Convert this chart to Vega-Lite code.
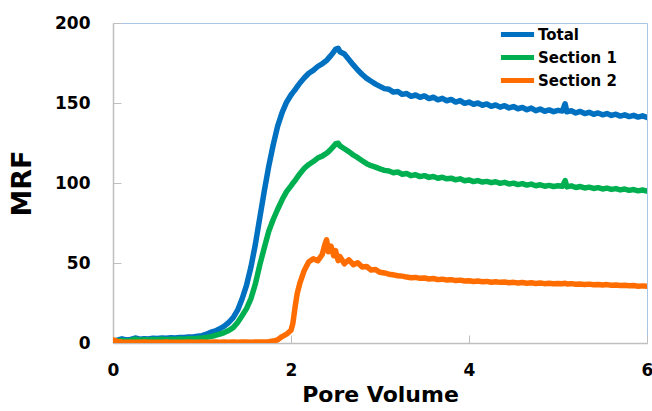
{
  "$schema": "https://vega.github.io/schema/vega-lite/v6.json",
  "width": 534,
  "height": 320,
  "padding": {"left": 113, "top": 23, "right": 5, "bottom": 68},
  "autosize": {"type": "none"},
  "background": "white",
  "config": {
    "view": {"stroke": "#A8C6E6", "strokeWidth": 1},
    "font": "DejaVu Sans"
  },
  "data": {
    "values": [
      {"pv": 0.00, "Total": 1.0, "Section 1": 1.0, "Section 2": 2.0},
      {"pv": 0.05, "Total": 1.8, "Section 1": 1.2, "Section 2": 1.0},
      {"pv": 0.10, "Total": 2.6, "Section 1": 1.5, "Section 2": 0.6},
      {"pv": 0.15, "Total": 1.9, "Section 1": 1.3, "Section 2": 0.5},
      {"pv": 0.20, "Total": 2.2, "Section 1": 1.6, "Section 2": 0.5},
      {"pv": 0.25, "Total": 3.1, "Section 1": 2.4, "Section 2": 0.4},
      {"pv": 0.30, "Total": 2.4, "Section 1": 1.8, "Section 2": 0.5},
      {"pv": 0.35, "Total": 2.7, "Section 1": 2.0, "Section 2": 0.6},
      {"pv": 0.40, "Total": 2.5, "Section 1": 1.9, "Section 2": 0.5},
      {"pv": 0.45, "Total": 3.0, "Section 1": 2.2, "Section 2": 0.4},
      {"pv": 0.50, "Total": 2.8, "Section 1": 2.0, "Section 2": 0.5},
      {"pv": 0.55, "Total": 3.2, "Section 1": 2.3, "Section 2": 0.5},
      {"pv": 0.60, "Total": 3.0, "Section 1": 2.1, "Section 2": 0.6},
      {"pv": 0.65, "Total": 3.3, "Section 1": 2.4, "Section 2": 0.5},
      {"pv": 0.70, "Total": 3.1, "Section 1": 2.2, "Section 2": 0.4},
      {"pv": 0.75, "Total": 3.5, "Section 1": 2.5, "Section 2": 0.5},
      {"pv": 0.80, "Total": 3.4, "Section 1": 2.4, "Section 2": 0.5},
      {"pv": 0.85, "Total": 3.8, "Section 1": 2.7, "Section 2": 0.6},
      {"pv": 0.90, "Total": 3.7, "Section 1": 2.6, "Section 2": 0.5},
      {"pv": 0.95, "Total": 4.2, "Section 1": 2.9, "Section 2": 0.5},
      {"pv": 1.00, "Total": 4.6, "Section 1": 3.1, "Section 2": 0.6},
      {"pv": 1.05, "Total": 5.5, "Section 1": 3.5, "Section 2": 0.5},
      {"pv": 1.10, "Total": 6.8, "Section 1": 4.0, "Section 2": 0.5},
      {"pv": 1.15, "Total": 7.5, "Section 1": 4.8, "Section 2": 0.6},
      {"pv": 1.20, "Total": 8.9, "Section 1": 5.6, "Section 2": 0.5},
      {"pv": 1.25, "Total": 10.6, "Section 1": 6.5, "Section 2": 0.6},
      {"pv": 1.30, "Total": 12.8, "Section 1": 7.8, "Section 2": 0.5},
      {"pv": 1.35, "Total": 15.9, "Section 1": 9.6, "Section 2": 0.6},
      {"pv": 1.40, "Total": 20.5, "Section 1": 12.8, "Section 2": 0.5},
      {"pv": 1.45, "Total": 27.5, "Section 1": 17.0, "Section 2": 0.6},
      {"pv": 1.50, "Total": 36.0, "Section 1": 21.5, "Section 2": 0.6},
      {"pv": 1.55, "Total": 47.5, "Section 1": 27.8, "Section 2": 0.5},
      {"pv": 1.60, "Total": 61.8, "Section 1": 37.0, "Section 2": 0.6},
      {"pv": 1.65, "Total": 78.5, "Section 1": 49.0, "Section 2": 0.6},
      {"pv": 1.70, "Total": 95.0, "Section 1": 59.5, "Section 2": 0.7},
      {"pv": 1.75, "Total": 110.5, "Section 1": 69.8, "Section 2": 0.8},
      {"pv": 1.80, "Total": 123.8, "Section 1": 77.2, "Section 2": 1.2},
      {"pv": 1.85, "Total": 135.5, "Section 1": 83.6, "Section 2": 2.0},
      {"pv": 1.90, "Total": 144.0, "Section 1": 89.5, "Section 2": 4.0},
      {"pv": 1.95, "Total": 150.5, "Section 1": 94.6, "Section 2": 5.5},
      {"pv": 2.00, "Total": 155.0, "Section 1": 98.2, "Section 2": 8.0},
      {"pv": 2.02, "Total": 156.5, "Section 1": 99.8, "Section 2": 12.0},
      {"pv": 2.05, "Total": 158.6, "Section 1": 101.9, "Section 2": 24.0},
      {"pv": 2.07, "Total": 160.2, "Section 1": 103.5, "Section 2": 31.0},
      {"pv": 2.10, "Total": 162.5, "Section 1": 105.8, "Section 2": 37.5},
      {"pv": 2.15, "Total": 165.8, "Section 1": 109.2, "Section 2": 45.5},
      {"pv": 2.20, "Total": 168.6, "Section 1": 111.6, "Section 2": 50.8},
      {"pv": 2.25, "Total": 170.4, "Section 1": 113.4, "Section 2": 52.6},
      {"pv": 2.30, "Total": 172.8, "Section 1": 115.6, "Section 2": 51.4},
      {"pv": 2.35, "Total": 174.5, "Section 1": 116.8, "Section 2": 55.2},
      {"pv": 2.38, "Total": 175.8, "Section 1": 117.9, "Section 2": 61.5},
      {"pv": 2.40, "Total": 176.6, "Section 1": 118.6, "Section 2": 64.5},
      {"pv": 2.42, "Total": 177.9, "Section 1": 119.5, "Section 2": 57.0},
      {"pv": 2.45, "Total": 179.8, "Section 1": 121.2, "Section 2": 60.5},
      {"pv": 2.48, "Total": 182.0, "Section 1": 123.0, "Section 2": 54.5},
      {"pv": 2.50, "Total": 183.5, "Section 1": 124.4, "Section 2": 57.8},
      {"pv": 2.53, "Total": 184.2, "Section 1": 124.9, "Section 2": 51.5},
      {"pv": 2.55, "Total": 182.0, "Section 1": 123.2, "Section 2": 54.0},
      {"pv": 2.60, "Total": 180.6, "Section 1": 121.4, "Section 2": 49.5},
      {"pv": 2.65, "Total": 177.2, "Section 1": 119.6, "Section 2": 52.0},
      {"pv": 2.70, "Total": 173.8, "Section 1": 117.5, "Section 2": 49.0},
      {"pv": 2.75, "Total": 170.6, "Section 1": 115.8, "Section 2": 50.2},
      {"pv": 2.80, "Total": 167.8, "Section 1": 113.9, "Section 2": 47.5},
      {"pv": 2.85, "Total": 165.4, "Section 1": 112.1, "Section 2": 47.8},
      {"pv": 2.90, "Total": 163.6, "Section 1": 110.8, "Section 2": 45.6},
      {"pv": 2.95, "Total": 161.8, "Section 1": 109.9, "Section 2": 45.9},
      {"pv": 3.00, "Total": 160.4, "Section 1": 108.8, "Section 2": 44.2},
      {"pv": 3.05, "Total": 159.0, "Section 1": 107.9, "Section 2": 43.8},
      {"pv": 3.10, "Total": 158.6, "Section 1": 107.5, "Section 2": 43.0},
      {"pv": 3.15, "Total": 156.8, "Section 1": 106.4, "Section 2": 42.6},
      {"pv": 3.20, "Total": 157.2, "Section 1": 106.9, "Section 2": 42.0},
      {"pv": 3.25, "Total": 155.4, "Section 1": 105.5, "Section 2": 41.8},
      {"pv": 3.30, "Total": 155.9, "Section 1": 105.9, "Section 2": 41.2},
      {"pv": 3.35, "Total": 154.2, "Section 1": 104.6, "Section 2": 40.8},
      {"pv": 3.40, "Total": 155.0, "Section 1": 105.2, "Section 2": 41.0},
      {"pv": 3.45, "Total": 153.6, "Section 1": 104.0, "Section 2": 40.4},
      {"pv": 3.50, "Total": 154.4, "Section 1": 104.6, "Section 2": 40.6},
      {"pv": 3.55, "Total": 152.8, "Section 1": 103.5, "Section 2": 40.0},
      {"pv": 3.60, "Total": 153.6, "Section 1": 104.1, "Section 2": 40.3},
      {"pv": 3.65, "Total": 152.0, "Section 1": 103.0, "Section 2": 39.6},
      {"pv": 3.70, "Total": 152.9, "Section 1": 103.6, "Section 2": 39.9},
      {"pv": 3.75, "Total": 151.4, "Section 1": 102.6, "Section 2": 39.4},
      {"pv": 3.80, "Total": 152.2, "Section 1": 103.0, "Section 2": 39.6},
      {"pv": 3.85, "Total": 150.6, "Section 1": 102.0, "Section 2": 39.0},
      {"pv": 3.90, "Total": 151.5, "Section 1": 102.6, "Section 2": 39.3},
      {"pv": 3.95, "Total": 149.8, "Section 1": 101.4, "Section 2": 38.8},
      {"pv": 4.00, "Total": 150.6, "Section 1": 101.9, "Section 2": 38.9},
      {"pv": 4.05, "Total": 149.2, "Section 1": 100.9, "Section 2": 38.4},
      {"pv": 4.10, "Total": 150.0, "Section 1": 101.5, "Section 2": 38.7},
      {"pv": 4.15, "Total": 148.6, "Section 1": 100.6, "Section 2": 38.3},
      {"pv": 4.20, "Total": 149.4, "Section 1": 101.0, "Section 2": 38.5},
      {"pv": 4.25, "Total": 147.9, "Section 1": 100.2, "Section 2": 38.0},
      {"pv": 4.30, "Total": 148.8, "Section 1": 100.8, "Section 2": 38.3},
      {"pv": 4.35, "Total": 147.4, "Section 1": 99.8, "Section 2": 37.9},
      {"pv": 4.40, "Total": 148.3, "Section 1": 100.4, "Section 2": 38.1},
      {"pv": 4.45, "Total": 146.9, "Section 1": 99.4, "Section 2": 37.7},
      {"pv": 4.50, "Total": 147.8, "Section 1": 99.9, "Section 2": 37.9},
      {"pv": 4.55, "Total": 146.4, "Section 1": 99.0, "Section 2": 37.5},
      {"pv": 4.60, "Total": 147.2, "Section 1": 99.6, "Section 2": 37.8},
      {"pv": 4.65, "Total": 145.8, "Section 1": 98.7, "Section 2": 37.4},
      {"pv": 4.70, "Total": 146.8, "Section 1": 99.3, "Section 2": 37.6},
      {"pv": 4.75, "Total": 145.2, "Section 1": 98.3, "Section 2": 37.2},
      {"pv": 4.80, "Total": 146.2, "Section 1": 98.9, "Section 2": 37.5},
      {"pv": 4.85, "Total": 144.8, "Section 1": 98.0, "Section 2": 37.1},
      {"pv": 4.90, "Total": 145.7, "Section 1": 98.5, "Section 2": 37.3},
      {"pv": 4.95, "Total": 144.6, "Section 1": 97.8, "Section 2": 37.0},
      {"pv": 5.00, "Total": 145.4, "Section 1": 98.3, "Section 2": 37.2},
      {"pv": 5.05, "Total": 145.0, "Section 1": 98.0, "Section 2": 37.0},
      {"pv": 5.08, "Total": 149.5, "Section 1": 101.5, "Section 2": 37.3},
      {"pv": 5.10, "Total": 144.5, "Section 1": 97.6, "Section 2": 36.9},
      {"pv": 5.15, "Total": 145.2, "Section 1": 98.2, "Section 2": 37.1},
      {"pv": 5.20, "Total": 143.8, "Section 1": 97.2, "Section 2": 36.7},
      {"pv": 5.25, "Total": 144.7, "Section 1": 97.8, "Section 2": 36.9},
      {"pv": 5.30, "Total": 143.4, "Section 1": 96.9, "Section 2": 36.5},
      {"pv": 5.35, "Total": 144.2, "Section 1": 97.4, "Section 2": 36.8},
      {"pv": 5.40, "Total": 142.9, "Section 1": 96.6, "Section 2": 36.4},
      {"pv": 5.45, "Total": 143.8, "Section 1": 97.1, "Section 2": 36.6},
      {"pv": 5.50, "Total": 142.6, "Section 1": 96.3, "Section 2": 36.2},
      {"pv": 5.55, "Total": 143.4, "Section 1": 96.8, "Section 2": 36.5},
      {"pv": 5.60, "Total": 142.2, "Section 1": 96.0, "Section 2": 36.1},
      {"pv": 5.65, "Total": 143.0, "Section 1": 96.5, "Section 2": 36.3},
      {"pv": 5.70, "Total": 141.8, "Section 1": 95.7, "Section 2": 35.9},
      {"pv": 5.75, "Total": 142.6, "Section 1": 96.2, "Section 2": 36.1},
      {"pv": 5.80, "Total": 141.5, "Section 1": 95.4, "Section 2": 35.8},
      {"pv": 5.85, "Total": 142.3, "Section 1": 95.9, "Section 2": 35.9},
      {"pv": 5.90, "Total": 141.2, "Section 1": 95.1, "Section 2": 35.5},
      {"pv": 5.95, "Total": 142.0, "Section 1": 95.6, "Section 2": 35.7},
      {"pv": 6.00, "Total": 141.0, "Section 1": 95.0, "Section 2": 35.4}
    ]
  },
  "transform": [
    {"fold": ["Total", "Section 1", "Section 2"], "as": ["series", "mrf"]}
  ],
  "mark": {"type": "line", "strokeWidth": 5.5, "strokeJoin": "round", "strokeCap": "round", "clip": true},
  "encoding": {
    "x": {
      "field": "pv",
      "type": "quantitative",
      "scale": {"domain": [0, 6], "nice": false},
      "axis": {
        "title": "Pore Volume",
        "values": [0, 2, 4, 6],
        "grid": false,
        "domainColor": "#BFBFBF",
        "domainWidth": 1.5,
        "tickColor": "#BFBFBF",
        "tickSize": -8,
        "labelPadding": 27,
        "labelFont": "DejaVu Sans",
        "labelFontSize": 17,
        "labelFontWeight": "bold",
        "labelColor": "#000000",
        "labelFlush": false,
        "titleFont": "DejaVu Sans",
        "titleFontSize": 22,
        "titleFontWeight": "bold",
        "titleColor": "#000000",
        "titlePadding": 6
      }
    },
    "y": {
      "field": "mrf",
      "type": "quantitative",
      "scale": {"domain": [0, 200], "nice": false},
      "axis": {
        "title": "MRF",
        "values": [0, 50, 100, 150, 200],
        "grid": false,
        "domainColor": "#BFBFBF",
        "domainWidth": 1.5,
        "tickColor": "#BFBFBF",
        "tickSize": -8,
        "labelPadding": 31,
        "labelFont": "DejaVu Sans",
        "labelFontSize": 17,
        "labelFontWeight": "bold",
        "labelColor": "#000000",
        "labelFlush": false,
        "titleFont": "DejaVu Sans",
        "titleFontSize": 27,
        "titleFontWeight": "bold",
        "titleColor": "#000000",
        "titlePadding": 18
      }
    },
    "color": {
      "field": "series",
      "type": "nominal",
      "sort": ["Total", "Section 1", "Section 2"],
      "scale": {
        "domain": ["Total", "Section 1", "Section 2"],
        "range": ["#0070C0", "#00B050", "#FF6D00"]
      },
      "legend": {
        "title": null,
        "orient": "none",
        "legendX": 385,
        "legendY": 0,
        "symbolType": "stroke",
        "symbolSize": 1100,
        "symbolStrokeWidth": 5,
        "labelFont": "DejaVu Sans",
        "labelFontSize": 15,
        "labelFontWeight": "bold",
        "labelColor": "#000000",
        "labelOffset": 1,
        "clipHeight": 23,
        "rowPadding": 0
      }
    }
  }
}
